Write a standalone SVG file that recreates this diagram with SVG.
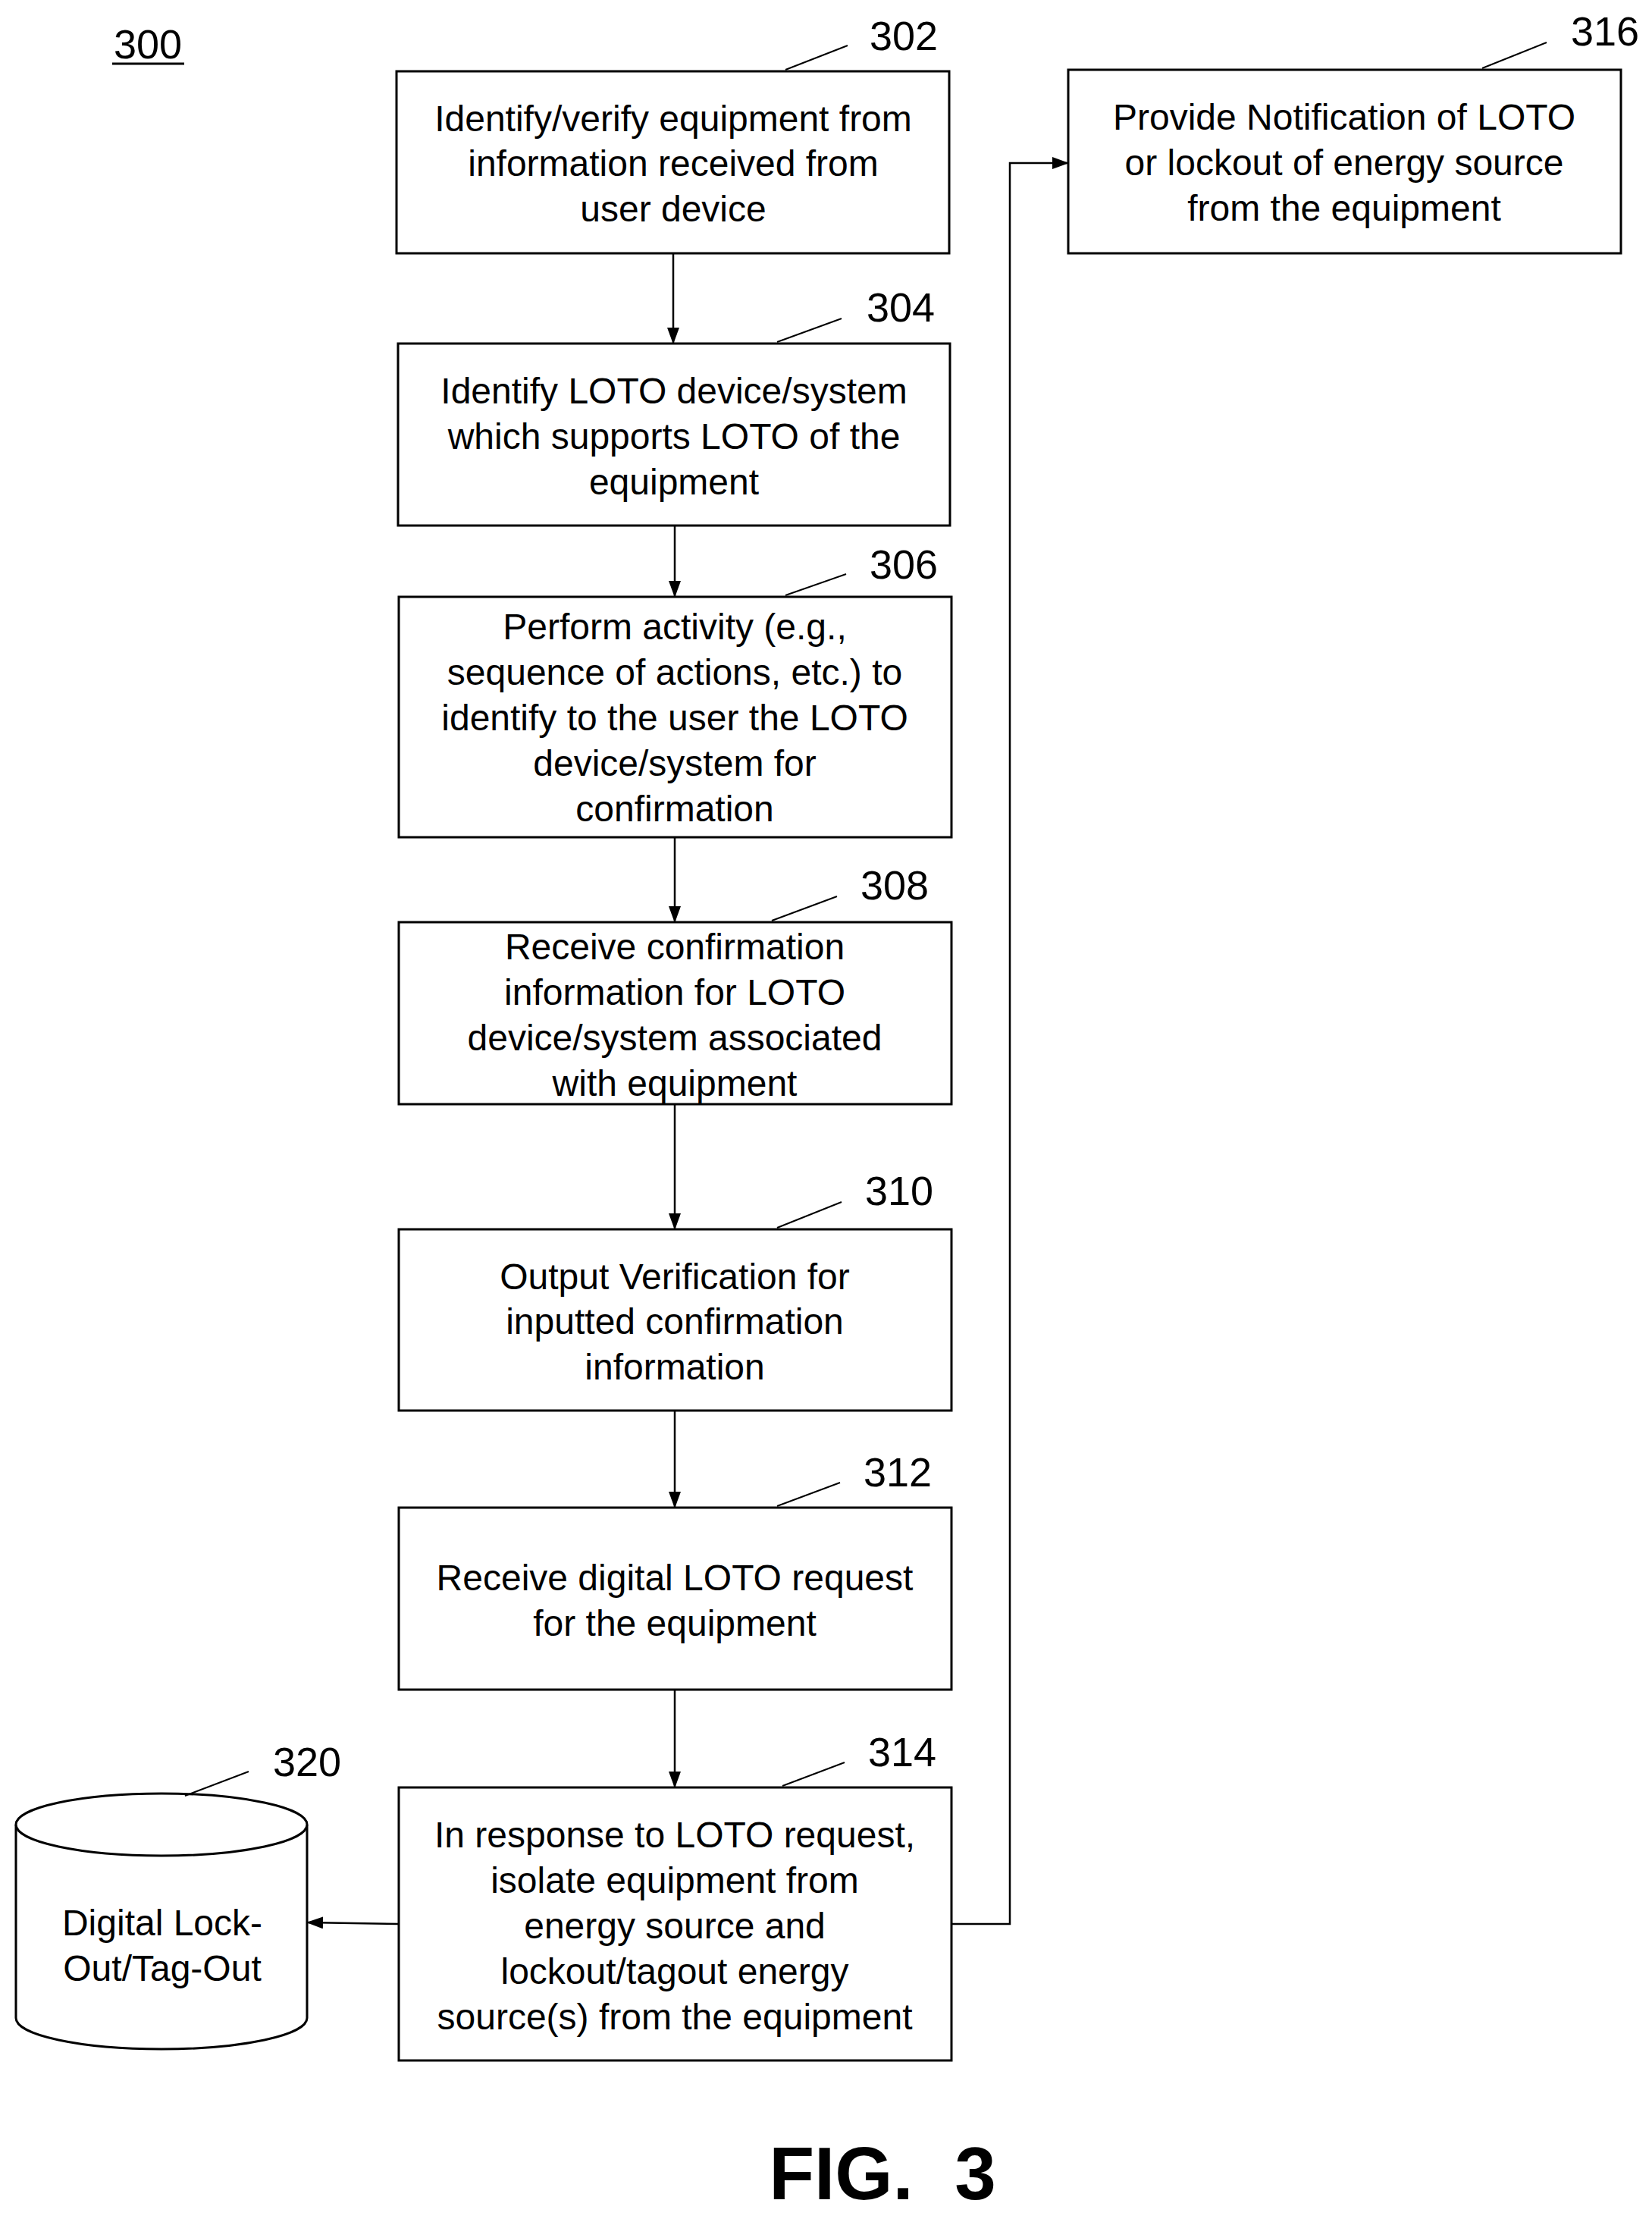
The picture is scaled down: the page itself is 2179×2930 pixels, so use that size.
<svg xmlns="http://www.w3.org/2000/svg" width="2179" height="2930" viewBox="0 0 2179 2930">
<style>
.b{fill:#fff;stroke:#000;stroke-width:3}
.t{font-family:"Liberation Sans",Arial,sans-serif;font-size:48px;text-anchor:middle;dominant-baseline:central;fill:#000}
.n{font-family:"Liberation Sans",Arial,sans-serif;font-size:54px;text-anchor:middle;dominant-baseline:central;fill:#000}
.l{stroke:#000;stroke-width:2;fill:none}
.c{stroke:#000;stroke-width:2.5;fill:none;marker-end:url(#a)}
</style>
<defs><marker id="a" markerWidth="22" markerHeight="16" refX="21" refY="8" orient="auto" markerUnits="userSpaceOnUse"><path d="M0,0L22,8L0,16z" fill="#000"/></marker></defs>
<rect width="2179" height="2930" fill="#fff"/>
<g id="label300"><text class="n" x="195" y="58">300</text><line x1="148" y1="84" x2="243" y2="84" stroke="#000" stroke-width="3"/></g>
<g id="n302"><rect class="b" x="523" y="94" width="729" height="240"/>
<text class="t" x="888" y="156">Identify/verify equipment from</text><text class="t" x="888" y="215">information received from</text><text class="t" x="888" y="275">user device</text>
<line class="l" x1="1036" y1="92" x2="1118" y2="60"/><text class="n" x="1192" y="47">302</text></g>
<g id="n304"><rect class="b" x="525" y="453" width="728" height="240"/>
<text class="t" x="889" y="515">Identify LOTO device/system</text><text class="t" x="889" y="575">which supports LOTO of the</text><text class="t" x="889" y="635">equipment</text>
<line class="l" x1="1025" y1="451" x2="1110" y2="420"/><text class="n" x="1188" y="405">304</text></g>
<g id="n306"><rect class="b" x="526" y="787" width="729" height="317"/>
<text class="t" x="890" y="826">Perform activity (e.g.,</text><text class="t" x="890" y="886">sequence of actions, etc.) to</text><text class="t" x="890" y="946">identify to the user the LOTO</text><text class="t" x="890" y="1006">device/system for</text><text class="t" x="890" y="1066">confirmation</text>
<line class="l" x1="1036" y1="785" x2="1116" y2="757"/><text class="n" x="1192" y="744">306</text></g>
<g id="n308"><rect class="b" x="526" y="1216" width="729" height="240"/>
<text class="t" x="890" y="1248">Receive confirmation</text><text class="t" x="890" y="1308">information for LOTO</text><text class="t" x="890" y="1368">device/system associated</text><text class="t" x="890" y="1428">with equipment</text>
<line class="l" x1="1018" y1="1214" x2="1104" y2="1182"/><text class="n" x="1180" y="1167">308</text></g>
<g id="n310"><rect class="b" x="526" y="1621" width="729" height="239"/>
<text class="t" x="890" y="1683">Output Verification for</text><text class="t" x="890" y="1742">inputted confirmation</text><text class="t" x="890" y="1802">information</text>
<line class="l" x1="1025" y1="1619" x2="1110" y2="1585"/><text class="n" x="1186" y="1570">310</text></g>
<g id="n312"><rect class="b" x="526" y="1988" width="729" height="240"/>
<text class="t" x="890" y="2080">Receive digital LOTO request</text><text class="t" x="890" y="2140">for the equipment</text>
<line class="l" x1="1025" y1="1986" x2="1108" y2="1955"/><text class="n" x="1184" y="1941">312</text></g>
<g id="n314"><rect class="b" x="526" y="2357" width="729" height="360"/>
<text class="t" x="890" y="2419">In response to LOTO request,</text><text class="t" x="890" y="2479">isolate equipment from</text><text class="t" x="890" y="2539">energy source and</text><text class="t" x="890" y="2599">lockout/tagout energy</text><text class="t" x="890" y="2659">source(s) from the equipment</text>
<line class="l" x1="1032" y1="2355" x2="1114" y2="2324"/><text class="n" x="1190" y="2310">314</text></g>
<g id="n316"><rect class="b" x="1409" y="92" width="729" height="242"/>
<text class="t" x="1773" y="154">Provide Notification of LOTO</text><text class="t" x="1773" y="214">or lockout of energy source</text><text class="t" x="1773" y="274">from the equipment</text>
<line class="l" x1="1955" y1="90" x2="2040" y2="56"/><text class="n" x="2117" y="41">316</text></g>
<g id="n320"><path class="b" d="M21,2406 L21,2661 A192,41 0 0 0 405,2661 L405,2406"/><ellipse class="b" cx="213" cy="2406" rx="192" ry="41"/>
<text class="t" x="214" y="2535">Digital Lock-</text><text class="t" x="214" y="2595">Out/Tag-Out</text>
<line class="l" x1="244" y1="2368" x2="328" y2="2336"/><text class="n" x="405" y="2323">320</text></g>
<g id="connectors">
<line class="c" x1="888" y1="334" x2="888" y2="453"/>
<line class="c" x1="890" y1="693" x2="890" y2="787"/>
<line class="c" x1="890" y1="1104" x2="890" y2="1216"/>
<line class="c" x1="890" y1="1456" x2="890" y2="1621"/>
<line class="c" x1="890" y1="1860" x2="890" y2="1988"/>
<line class="c" x1="890" y1="2228" x2="890" y2="2357"/>
<line class="c" x1="526" y1="2537" x2="405" y2="2535"/>
<polyline class="c" points="1255,2537 1332,2537 1332,215 1409,215"/>
</g>
<text x="1164" y="2900" font-family="Liberation Sans,Arial,sans-serif" font-size="98" font-weight="bold" text-anchor="middle" xml:space="preserve">FIG.  3</text>
</svg>
